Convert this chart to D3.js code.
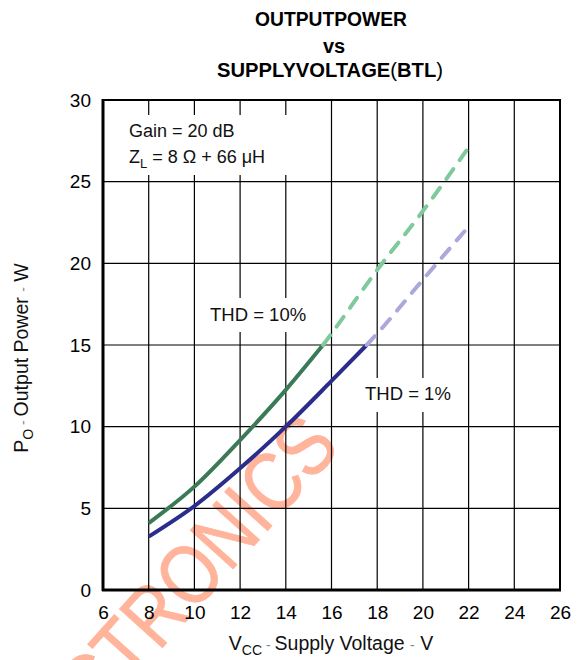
<!DOCTYPE html>
<html><head><meta charset="utf-8">
<script src="https://cdn.jsdelivr.net/npm/d3@7"></script>
<style>body{margin:0;background:#fff} svg{display:block}</style>
</head><body>
<svg id="c" width="581" height="660"></svg>
<script>
// ---- data ----
const xTicks = [6, 8, 10, 12, 14, 16, 18, 20, 22, 24, 26];
const yTicks = [0, 5, 10, 15, 20, 25, 30];
const thd10SolidV = [8, 10, 12, 14, 15.63];
const thd10SolidP = [4.1, 6.33, 9.18, 12.25, 15.0];
const thd10DashV  = [15.63, 16, 18, 20, 21.9];
const thd10DashP  = [15.0, 15.7, 19.6, 23.2, 26.9];
const thd1SolidV  = [8, 10, 12, 14, 16, 17.54];
const thd1SolidP  = [3.27, 5.14, 7.45, 10.0, 12.8, 15.0];
const thd1DashV   = [17.54, 18, 20, 22];
const thd1DashP   = [15.0, 15.7, 19.0, 22.25];

const FONT = "'Liberation Sans', Arial, Helvetica, sans-serif";
const svg = d3.select("#c");
const x = d3.scaleLinear().domain([6, 26]).range([103, 560]);
const y = d3.scaleLinear().domain([0, 30]).range([590, 100]);

// watermark
svg.append("text")
  .attr("transform", "translate(342,448) rotate(-48) scale(0.84,1)")
  .attr("text-anchor", "end")
  .attr("font-family", FONT).attr("font-size", 84)
  .attr("fill", "#ffb49b").attr("stroke", "#ffb49b").attr("stroke-width", 0.8)
  .text("ELECTRONICS");

// grid
const g = svg.append("g");
g.selectAll(".vx").data(xTicks).join("line")
  .attr("x1", d => x(d)).attr("x2", d => x(d))
  .attr("y1", y(0)).attr("y2", y(30))
  .attr("stroke", "#000").attr("stroke-width", 1.2);
g.selectAll(".hy").data(yTicks).join("line")
  .attr("y1", d => y(d)).attr("y2", d => y(d))
  .attr("x1", x(6)).attr("x2", x(26))
  .attr("stroke", "#000").attr("stroke-width", 1.2);

// white label boxes
const boxes = [[108, 115, 188, 60], [200, 298, 120, 34], [356, 378, 111, 34]];
svg.selectAll(".bx").data(boxes).join("rect")
  .attr("x", d => d[0]).attr("y", d => d[1]).attr("width", d => d[2]).attr("height", d => d[3])
  .attr("fill", "#fff");

// frame
svg.append("rect").attr("x", x(6)).attr("y", y(30))
  .attr("width", x(26) - x(6)).attr("height", y(0) - y(30))
  .attr("fill", "none").attr("stroke", "#000").attr("stroke-width", 2);
svg.append("line").attr("x1", x(6)).attr("x2", x(6)).attr("y1", y(30)-1).attr("y2", y(0)+1)
  .attr("stroke", "#000").attr("stroke-width", 3);
svg.append("line").attr("x1", x(6)-1).attr("x2", x(26)+1).attr("y1", y(0)).attr("y2", y(0))
  .attr("stroke", "#000").attr("stroke-width", 3);

// axes labels (ticks)
const xAxis = d3.axisBottom(x).tickValues(xTicks).tickSize(0).tickPadding(10);
const ax = svg.append("g").attr("transform", `translate(0,${y(0)+6})`).call(xAxis);
ax.select(".domain").remove();
ax.selectAll("text").attr("font-family", FONT).attr("font-size", 19).attr("fill", "#000");
const yAxis = d3.axisLeft(y).tickValues(yTicks).tickSize(0).tickPadding(12);
const ay = svg.append("g").attr("transform", `translate(${x(6)},0)`).call(yAxis);
ay.select(".domain").remove();
ay.selectAll("text").attr("font-family", FONT).attr("font-size", 19).attr("fill", "#000");

// curves
const line = d3.line().x(d => x(d[0])).y(d => y(d[1])).curve(d3.curveMonotoneX);
const zip = (a, b) => a.map((v, i) => [v, b[i]]);
const series = [
  {v: thd10SolidV, p: thd10SolidP, c: "#3b7a57", dash: null},
  {v: thd10DashV,  p: thd10DashP,  c: "#7fca9b", dash: "12,11"},
  {v: thd1SolidV,  p: thd1SolidP,  c: "#2a2d8c", dash: null},
  {v: thd1DashV,   p: thd1DashP,   c: "#aaa8dc", dash: "12,11"}
];
series.forEach(s => {
  svg.append("path").attr("d", line(zip(s.v, s.p)))
    .attr("fill", "none").attr("stroke", s.c).attr("stroke-width", 4)
    .attr("stroke-linecap", s.dash ? "round" : "butt")
    .attr("stroke-dasharray", s.dash);
});

// annotations
const ann = (tx, ty, parts, size) => {
  const t = svg.append("text").attr("x", tx).attr("y", ty)
    .attr("font-family", FONT).attr("font-size", size).attr("fill", "#111");
  parts.forEach(p => {
    const ts = t.append("tspan").text(p.t);
    if (p.sub) ts.attr("font-size", size * 0.72).attr("dy", 5);
    if (p.up) ts.attr("dy", -5);
  });
  return t;
};
ann(129, 137, [{t: "Gain = 20 dB"}], 18);
ann(129, 163, [{t: "Z"}, {t: "L", sub: true}, {t: " = 8 Ω + 66 μH", up: true}], 18);
ann(210, 321, [{t: "THD = 10%"}], 18.5);
ann(365, 400, [{t: "THD = 1%"}], 18.5);

// title
svg.append("text").attr("x", 331).attr("y", 26).attr("text-anchor", "middle")
  .attr("font-family", FONT).attr("font-weight", "bold").attr("font-size", 20)
  .attr("textLength", 152).attr("lengthAdjust", "spacingAndGlyphs").text("OUTPUTPOWER");
svg.append("text").attr("x", 334).attr("y", 53).attr("text-anchor", "middle")
  .attr("font-family", FONT).attr("font-weight", "bold").attr("font-size", 20)
  .text("vs");
const t3 = svg.append("text").attr("x", 330).attr("y", 77).attr("text-anchor", "middle")
  .attr("font-family", FONT).attr("font-weight", "bold").attr("font-size", 20)
  .attr("textLength", 226).attr("lengthAdjust", "spacingAndGlyphs");
t3.append("tspan").text("SUPPLYVOLTAGE");
t3.append("tspan").attr("font-weight", "normal").text("(");
t3.append("tspan").text("BTL");
t3.append("tspan").attr("font-weight", "normal").text(")");

// axis titles
const xt = svg.append("text").attr("x", 331).attr("y", 650).attr("text-anchor", "middle")
  .attr("font-family", FONT).attr("font-size", 19.5).attr("fill", "#111");
xt.append("tspan").text("V");
xt.append("tspan").attr("font-size", 14).attr("dy", 5).text("CC");
xt.append("tspan").attr("dy", -5).attr("fill", "#888").attr("font-size", 14).text(" - ");
xt.append("tspan").text("Supply Voltage ");
xt.append("tspan").attr("fill", "#888").attr("font-size", 14).text("-");
xt.append("tspan").text(" V");

const yt = svg.append("text").attr("transform", "translate(28,358) rotate(-90)")
  .attr("text-anchor", "middle")
  .attr("font-family", FONT).attr("font-size", 19.5).attr("fill", "#111");
yt.append("tspan").text("P");
yt.append("tspan").attr("font-size", 14).attr("dy", 5).text("O");
yt.append("tspan").attr("dy", -5).attr("fill", "#888").attr("font-size", 14).text(" - ");
yt.append("tspan").text("Output Power ");
yt.append("tspan").attr("fill", "#888").attr("font-size", 14).text("-");
yt.append("tspan").text(" W");
</script>
</body></html>
